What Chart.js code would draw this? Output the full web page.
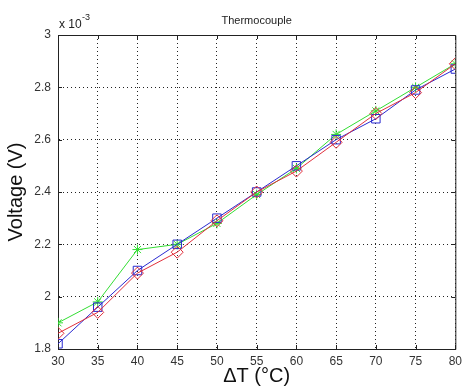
<!DOCTYPE html>
<html>
<head>
<meta charset="utf-8">
<script src="https://cdn.jsdelivr.net/npm/chart.js@4"></script>
<style>
  html, body { margin: 0; padding: 0; background: #fff; }
  #wrap { width: 467px; height: 390px; }
</style>
</head>
<body>
<div id="wrap"><canvas id="chart" width="467" height="390"></canvas></div>
<script>
// temperature difference (°C)
const deltaT = [30, 35, 40, 45, 50, 55, 60, 65, 70, 75, 80];
// voltages, in units of 1e-3 V
const redSeries = [1.86, 1.94, 2.09, 2.17, 2.29, 2.40, 2.48, 2.59, 2.70, 2.78, 2.89];
const blueSeries = [1.82, 1.96, 2.10, 2.20, 2.30, 2.40, 2.50, 2.60, 2.68, 2.79, 2.87];
const greenSeries = [1.90, 1.98, 2.18, 2.20, 2.28, 2.39, 2.49, 2.62, 2.71, 2.80, 2.89];
const xTicks = [30, 35, 40, 45, 50, 55, 60, 65, 70, 75, 80];
const yTicks = [1.8, 2, 2.2, 2.4, 2.6, 2.8, 3];

const toPoints = arr => arr.map((v, i) => ({ x: deltaT[i], y: v }));

// matlab style box, inner tick marks, title and exponent label
const matlabFrame = {
  id: 'matlabFrame',
  afterDraw(chart) {
    const ctx = chart.ctx;
    const a = chart.chartArea;
    const xs = chart.scales.x, ys = chart.scales.y;
    ctx.save();
    ctx.strokeStyle = '#222';
    ctx.lineWidth = 1;
    ctx.beginPath();
    ctx.moveTo(a.left + 0.5, a.top + 0.5);
    ctx.lineTo(a.right + 0.5, a.top + 0.5);
    ctx.lineTo(a.right + 0.5, a.bottom + 0.5);
    ctx.stroke();
    ctx.beginPath();
    xTicks.forEach(t => {
      const px = Math.round(xs.getPixelForValue(t)) + 0.5;
      ctx.moveTo(px, a.bottom); ctx.lineTo(px, a.bottom - 4);
      ctx.moveTo(px, a.top); ctx.lineTo(px, a.top + 4);
    });
    yTicks.forEach(t => {
      const py = Math.round(ys.getPixelForValue(t)) + 0.5;
      ctx.moveTo(a.left, py); ctx.lineTo(a.left + 4, py);
      ctx.moveTo(a.right, py); ctx.lineTo(a.right - 4, py);
    });
    ctx.stroke();

    ctx.fillStyle = '#222';
    ctx.font = '11px "Liberation Sans", Arial, sans-serif';
    ctx.textAlign = 'center';
    ctx.textBaseline = 'middle';
    ctx.fillText('Thermocouple', (a.left + a.right) / 2, 21);

    ctx.textAlign = 'left';
    ctx.textBaseline = 'alphabetic';
    ctx.font = '12px "Liberation Sans", Arial, sans-serif';
    ctx.fillText('x 10', 59, 28);
    ctx.font = '9px "Liberation Sans", Arial, sans-serif';
    ctx.fillText('-3', 82, 20);
    ctx.restore();
  }
};

const lineSet = (label, data, color, style, radius) => ({
  label: label,
  data: toPoints(data),
  borderColor: color,
  backgroundColor: 'rgba(0,0,0,0)',
  borderWidth: 1,
  pointStyle: style,
  pointRadius: radius,
  pointBorderColor: color,
  pointBorderWidth: 1,
  tension: 0
});

new Chart(document.getElementById('chart'), {
  type: 'line',
  data: {
    datasets: [
      lineSet('Series 1', redSeries, '#e0303c', 'rectRot', 6),
      lineSet('Series 2', blueSeries, '#2a2ad0', 'rect', 6),
      lineSet('Series 3', greenSeries, '#33dd33', 'star', 5)
    ]
  },
  options: {
    responsive: false,
    animation: false,
    layout: { padding: { left: 0, right: 5, top: 35, bottom: 0 } },
    plugins: {
      legend: { display: false },
      tooltip: { enabled: false }
    },
    scales: {
      x: {
        type: 'linear',
        min: 30,
        max: 80,
        afterFit: s => { s.height = 41; },
        afterBuildTicks: s => { s.ticks = xTicks.map(v => ({ value: v })); },
        ticks: {
          padding: 5,
          color: '#333',
          font: { size: 12, family: '"Liberation Sans", Arial, sans-serif' }
        },
        grid: { color: '#222', lineWidth: 1, drawTicks: false },
        border: { color: '#222', dash: [1, 3], display: true },
        title: {
          display: true,
          text: 'ΔT (°C)',
          color: '#111',
          padding: { top: 0, bottom: 2 },
          font: { size: 20, family: '"Liberation Sans", Arial, sans-serif' }
        }
      },
      y: {
        type: 'linear',
        min: 1.8,
        max: 3,
        afterFit: s => { s.width = 58; },
        afterBuildTicks: s => { s.ticks = yTicks.map(v => ({ value: v })); },
        ticks: {
          padding: 7,
          color: '#333',
          font: { size: 12, family: '"Liberation Sans", Arial, sans-serif' },
          callback: v => String(Number(v.toFixed(1)))
        },
        grid: { color: '#222', lineWidth: 1, drawTicks: false },
        border: { color: '#222', dash: [1, 3], display: true },
        title: {
          display: true,
          text: 'Voltage (V)',
          color: '#111',
          padding: { top: 4, bottom: 0 },
          font: { size: 20, family: '"Liberation Sans", Arial, sans-serif' }
        }
      }
    }
  },
  plugins: [matlabFrame]
});
</script>
</body>
</html>
